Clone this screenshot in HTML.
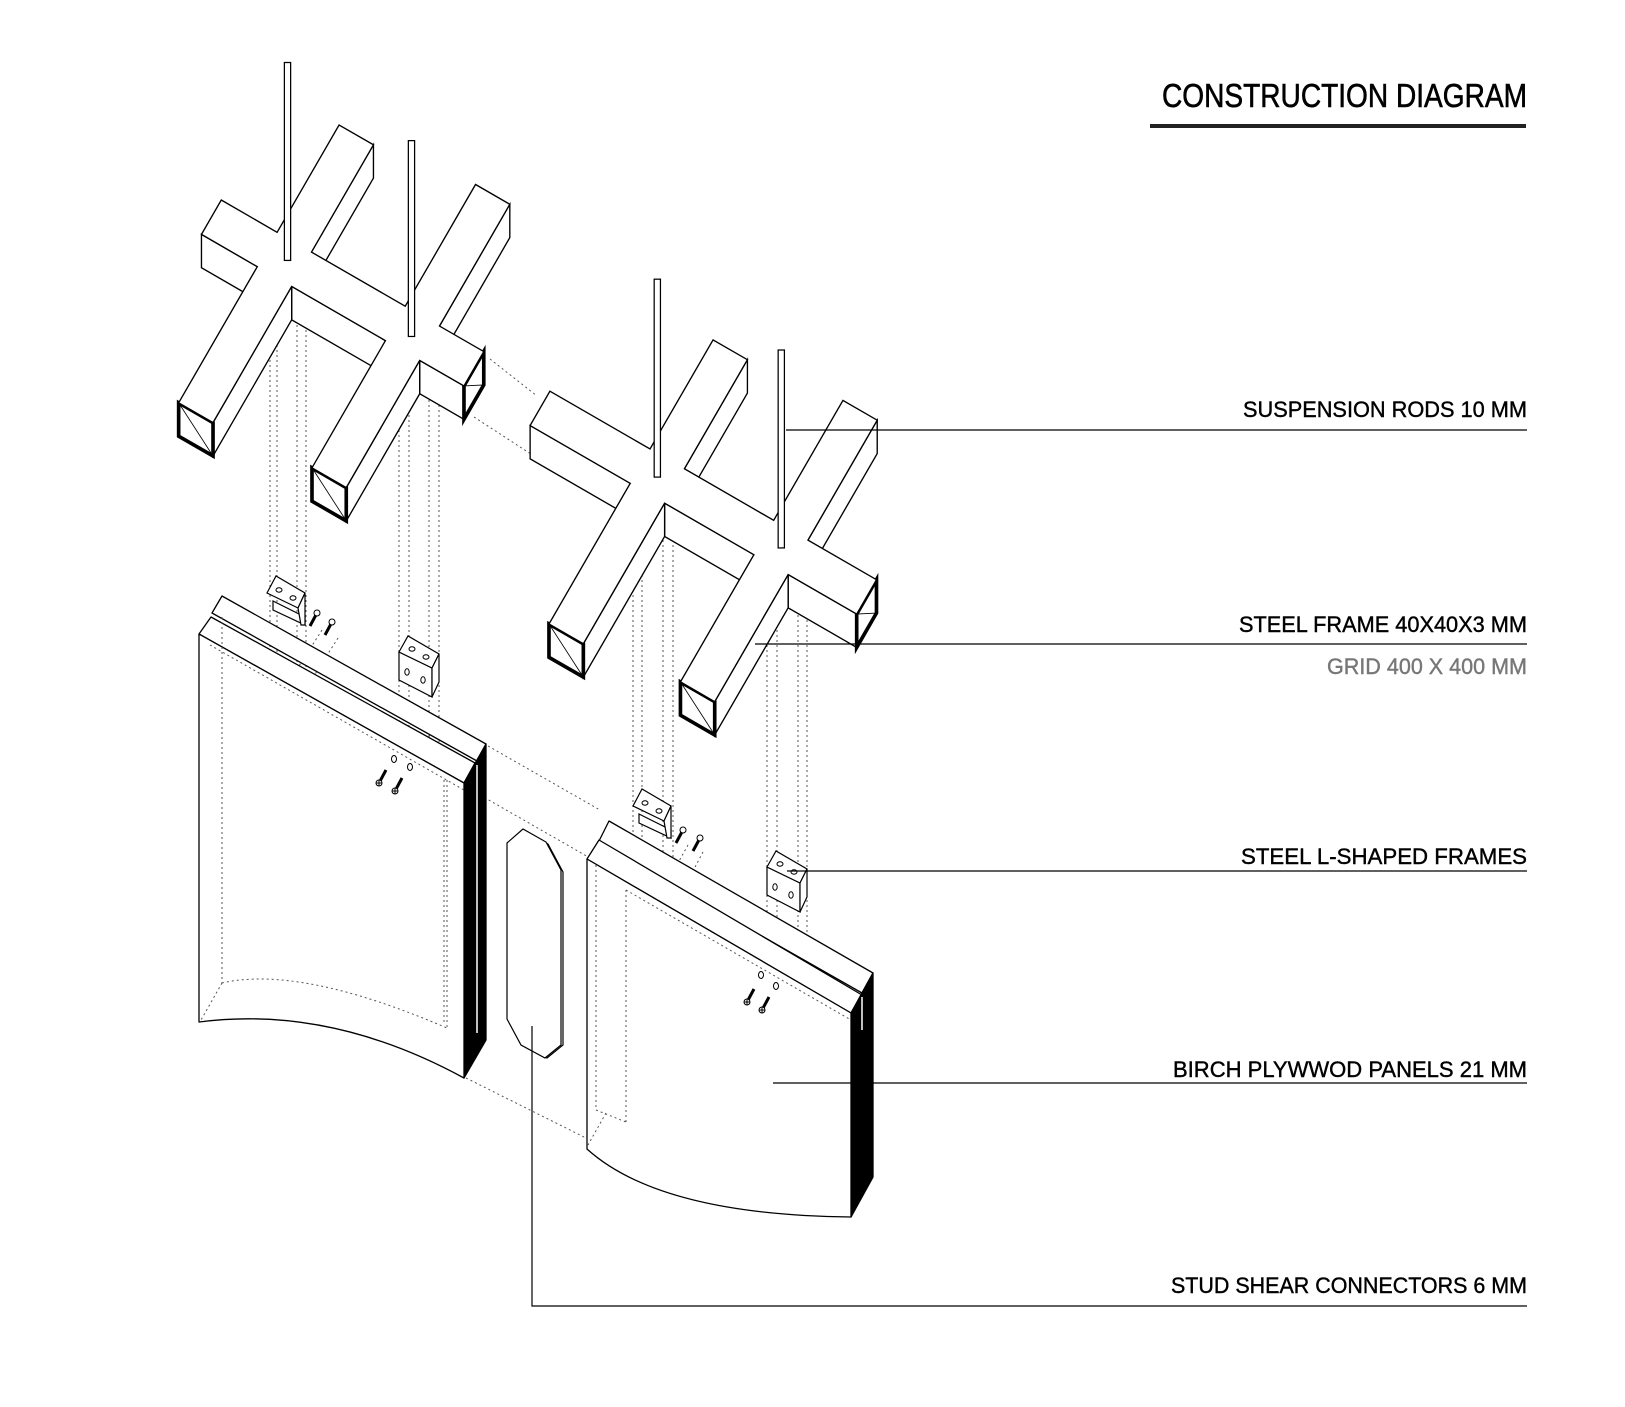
<!DOCTYPE html>
<html><head><meta charset="utf-8"><style>
html,body{margin:0;padding:0;background:#fff;}
svg{display:block;}
text{font-family:"Liberation Sans",sans-serif;}
</style></head><body>
<svg id="s" width="1625" height="1407" viewBox="0 0 1625 1407" xmlns="http://www.w3.org/2000/svg">
<rect width="1625" height="1407" fill="#fff"/>
<g stroke="#555" stroke-width="1" stroke-dasharray="2,3" fill="none">
<line x1="270" y1="290" x2="270" y2="700"/><line x1="277" y1="290" x2="277" y2="700"/>
<line x1="297" y1="300" x2="297" y2="700"/><line x1="306" y1="300" x2="306" y2="700"/>
<line x1="399" y1="350" x2="399" y2="760"/><line x1="409" y1="350" x2="409" y2="760"/>
<line x1="429" y1="360" x2="429" y2="760"/><line x1="439" y1="360" x2="439" y2="760"/>
<line x1="633" y1="500" x2="633" y2="900"/><line x1="642" y1="500" x2="642" y2="900"/>
<line x1="663" y1="510" x2="663" y2="900"/><line x1="673" y1="510" x2="673" y2="900"/>
<line x1="767" y1="570" x2="767" y2="1000"/><line x1="777" y1="570" x2="777" y2="1000"/>
<line x1="798" y1="580" x2="798" y2="1000"/><line x1="807" y1="580" x2="807" y2="1000"/>
<line x1="490" y1="359" x2="537" y2="396"/><line x1="474" y1="417" x2="537" y2="458"/>
<line x1="488" y1="746" x2="600" y2="810"/><line x1="480" y1="795" x2="590" y2="858"/>
<line x1="466" y1="1078" x2="590" y2="1140"/>
<line x1="322" y1="630" x2="290" y2="680"/><line x1="338" y1="638" x2="305" y2="690"/>
<line x1="688" y1="845" x2="660" y2="895"/><line x1="703" y1="852" x2="675" y2="905"/>
<line x1="412" y1="762" x2="430" y2="735"/><line x1="778" y1="982" x2="790" y2="955"/>
</g>
<g id="frames" transform="scale(1.0417)"></g>

<g stroke="#000" stroke-width="1.3" fill="#fff" stroke-linejoin="round">
<polygon points="212,613 222,596 486,744 477,761"/>
<polygon points="199,634 211,617 475,763 464,783"/>
<polygon points="464,783 486,744 486,1040 464,1078" fill="#000"/>
<line x1="477" y1="765" x2="477" y2="1033" stroke="#fff" stroke-width="1.5"/>
<path d="M199,634 L464,783 L464,1078 Q330,1005 199,1022 Z"/>
</g>
<g stroke="#555" stroke-width="1" stroke-dasharray="2,3" fill="none">
<line x1="222" y1="617" x2="222" y2="983"/>
<line x1="447" y1="780" x2="447" y2="1028"/><line x1="444" y1="780" x2="444" y2="1025"/>
<path d="M222,983 Q300,965 447,1028"/>
<line x1="222" y1="983" x2="201" y2="1020"/>
<line x1="210" y1="645" x2="464" y2="790"/>
</g>
<g stroke="#000" stroke-width="1.3" fill="#fff" stroke-linejoin="round">
<polygon points="598,843 609,821 873,973 862,993"/>
<polygon points="587,859 599,840 862,995 851,1013"/>
<polygon points="851,1013 873,973 873,1177 851,1217" fill="#000"/>
<line x1="862" y1="997" x2="862" y2="1030" stroke="#fff" stroke-width="1.5"/>
<path d="M587,859 L851,1013 L851,1217 Q660,1215 587,1149 Z"/>
</g>
<g stroke="#555" stroke-width="1" stroke-dasharray="2,3" fill="none">
<line x1="596" y1="865" x2="596" y2="1110"/><line x1="626" y1="890" x2="626" y2="1122"/>
<line x1="596" y1="1110" x2="626" y2="1122"/><line x1="606" y1="1113" x2="588" y2="1145"/>
<line x1="626" y1="890" x2="851" y2="1020"/>
</g>
<g fill="#fff" stroke="#000" stroke-width="1.2">
<polygon points="509,845 525,831 548,844 563,872 563,1045 547,1058 523,1045 509,1019"/>
<polygon points="507,843 523,829 546,842 561,870 561,1045 545,1058 521,1045 507,1019"/>
</g>
<defs>
<g id="br">
<polygon points="0,0 33,16 33,45 0,28" fill="#fff" stroke="#000" stroke-width="1.2"/>
<polygon points="0,0 9,-16 40,2 33,16" fill="#fff" stroke="#000" stroke-width="1.2"/>
<polygon points="33,16 40,2 40,30 33,45" fill="#fff" stroke="#000" stroke-width="1.2"/>
<ellipse cx="13" cy="-3" rx="3" ry="2.2" fill="none" stroke="#000"/>
<ellipse cx="27" cy="5" rx="3" ry="2.2" fill="none" stroke="#000"/>
<ellipse cx="8" cy="20" rx="2.2" ry="3.2" fill="none" stroke="#000"/>
<ellipse cx="24" cy="28" rx="2.2" ry="3.2" fill="none" stroke="#000"/>
</g>
<g id="br2">
<polygon points="6,8 38,24 38,32 6,17" fill="#fff" stroke="#000" stroke-width="1.2"/>
<polygon points="0,0 9,-17 38,0 31,15" fill="#fff" stroke="#000" stroke-width="1.2"/>
<polygon points="31,15 38,0 38,32 34,32" fill="#fff" stroke="#000" stroke-width="1.2"/>
<ellipse cx="12" cy="-3" rx="3" ry="2.2" fill="none" stroke="#000"/>
<ellipse cx="26" cy="5" rx="3" ry="2.2" fill="none" stroke="#000"/>
</g>
<g id="sc"><line x1="0" y1="0" x2="-7" y2="13" stroke="#000" stroke-width="3"/><circle cx="0" cy="0" r="3" fill="#fff" stroke="#000"/></g>
<g id="sc2"><line x1="0" y1="0" x2="7" y2="-13" stroke="#000" stroke-width="3"/><circle cx="0" cy="0" r="3" fill="#fff" stroke="#000"/><line x1="-3" y1="0" x2="3" y2="0" stroke="#000"/><line x1="0" y1="-3" x2="0" y2="3" stroke="#000"/></g>
</defs>
<use href="#br2" x="267" y="593"/>
<use href="#br" x="399" y="652"/>
<use href="#br2" x="633" y="806"/>
<use href="#br" x="767" y="867"/>
<use href="#sc" x="317" y="613"/><use href="#sc" x="332" y="622"/>
<use href="#sc" x="683" y="830"/><use href="#sc" x="700" y="838"/>
<use href="#sc2" x="379" y="783"/><use href="#sc2" x="395" y="791"/>
<use href="#sc2" x="747" y="1002"/><use href="#sc2" x="762" y="1010"/>
<g fill="none" stroke="#000"><ellipse cx="394" cy="759" rx="2.5" ry="3.5"/><ellipse cx="410" cy="767" rx="2.5" ry="3.5"/>
<ellipse cx="761" cy="975" rx="2.5" ry="3.5"/><ellipse cx="776" cy="986" rx="2.5" ry="3.5"/></g>

<g stroke="#000" stroke-width="1.2" fill="none">
<line x1="786" y1="430" x2="1527" y2="430"/>
<line x1="755" y1="644" x2="1527" y2="644"/>
<line x1="787" y1="871" x2="1527" y2="871"/>
<line x1="773" y1="1083" x2="1527" y2="1083"/>
<polyline points="532,1026 532,1306 1527,1306"/>
</g>
<text x="1527" y="107" font-size="33" text-anchor="end" textLength="365" lengthAdjust="spacingAndGlyphs" fill="#000" stroke="#000" stroke-width="0.6">CONSTRUCTION DIAGRAM</text>
<rect x="1150" y="124" width="376" height="4" fill="#222"/>
<g font-size="22" text-anchor="end" fill="#000" stroke-width="0.4">
<text x="1527" y="417" textLength="284" lengthAdjust="spacingAndGlyphs" stroke="#000">SUSPENSION RODS 10 MM</text>
<text x="1527" y="632" textLength="288" lengthAdjust="spacingAndGlyphs" stroke="#000">STEEL FRAME 40X40X3 MM</text>
<text x="1527" y="674" textLength="200" lengthAdjust="spacingAndGlyphs" fill="#777" stroke="#777">GRID 400 X 400 MM</text>
<text x="1527" y="864" textLength="286" lengthAdjust="spacingAndGlyphs" stroke="#000">STEEL L-SHAPED FRAMES</text>
<text x="1527" y="1077" textLength="354" lengthAdjust="spacingAndGlyphs" stroke="#000">BIRCH PLYWWOD PANELS 21 MM</text>
<text x="1527" y="1293" textLength="356" lengthAdjust="spacingAndGlyphs" stroke="#000">STUD SHEAR CONNECTORS 6 MM</text>
</g>
</svg>
<script>
(function(){
var NS="http://www.w3.org/2000/svg",g=document.getElementById("frames");
var h=32,hw=19;
function P(o,x,y,z){return [o[0]+x*0.866-y*0.5,o[1]+x*0.5+y*0.866-z];}
function poly(pts,fill,sw){var e=document.createElementNS(NS,"polygon");
e.setAttribute("points",pts.map(function(p){return p[0].toFixed(1)+","+p[1].toFixed(1)}).join(" "));
e.setAttribute("fill",fill);e.setAttribute("stroke","#000");e.setAttribute("stroke-width",sw);e.setAttribute("stroke-linejoin","miter");g.appendChild(e);}
function line(a,b,sw){var e=document.createElementNS(NS,"line");e.setAttribute("x1",a[0]);e.setAttribute("y1",a[1]);e.setAttribute("x2",b[0]);e.setAttribute("y2",b[1]);e.setAttribute("stroke","#000");e.setAttribute("stroke-width",sw);g.appendChild(e);}
function shape(o,a,b,arms){
 var s=a,i,c;
 for(i=0;i<arms.length;i++){c=arms[i].c;
  poly([P(o,s,hw,0),P(o,c-hw,hw,0),P(o,c-hw,hw,-h),P(o,s,hw,-h)],"#fff",1.3);s=c+hw;}
 poly([P(o,s,hw,0),P(o,b,hw,0),P(o,b,hw,-h),P(o,s,hw,-h)],"#fff",1.3);
 for(i=0;i<arms.length;i++){var A=arms[i];c=A.c;
  poly([P(o,c+hw,-A.n,0),P(o,c+hw,-hw,0),P(o,c+hw,-hw,-h),P(o,c+hw,-A.n,-h)],"#fff",1.3);
  poly([P(o,c+hw,hw,0),P(o,c+hw,A.p,0),P(o,c+hw,A.p,-h),P(o,c+hw,hw,-h)],"#fff",1.3);
  poly([P(o,c-hw,A.p,0),P(o,c+hw,A.p,0),P(o,c+hw,A.p,-h),P(o,c-hw,A.p,-h)],"#fff",3.5);
  line(P(o,c-hw,A.p,0),P(o,c+hw,A.p,-h),0.8);}
 poly([P(o,b,-hw,0),P(o,b,hw,0),P(o,b,hw,-h),P(o,b,-hw,-h)],"#fff",3.5);
 line(P(o,b,-hw,-h),P(o,b,hw,0),0.8);
 var t=[P(o,a,-hw,0)];
 for(i=0;i<arms.length;i++){var A=arms[i];c=A.c;
  t.push(P(o,c-hw,-hw,0),P(o,c-hw,-A.n,0),P(o,c+hw,-A.n,0),P(o,c+hw,-hw,0));}
 t.push(P(o,b,-hw,0),P(o,b,hw,0));
 for(i=arms.length-1;i>=0;i--){var A=arms[i];c=A.c;
  t.push(P(o,c+hw,hw,0),P(o,c+hw,A.p,0),P(o,c-hw,A.p,0),P(o,c-hw,hw,0));}
 t.push(P(o,a,hw,0));
 poly(t,"#fff",1.3);
}
shape([273,249],-81,210,[{c:0,n:138,p:170},{c:142,n:154,p:160}]);
shape([631,457],-130,232,[{c:0,n:140,p:175},{c:137,n:152,p:160}]);
[[276,60,250],[395,135,323],[631,268,458],[750,336,526]].forEach(function(r){
 var e=document.createElementNS(NS,"rect");e.setAttribute("x",r[0]-3);e.setAttribute("y",r[1]);
 e.setAttribute("width",6);e.setAttribute("height",r[2]-r[1]);e.setAttribute("fill","#fff");
 e.setAttribute("stroke","#000");e.setAttribute("stroke-width",1.2);g.appendChild(e);});
})();
</script>
</body></html>
